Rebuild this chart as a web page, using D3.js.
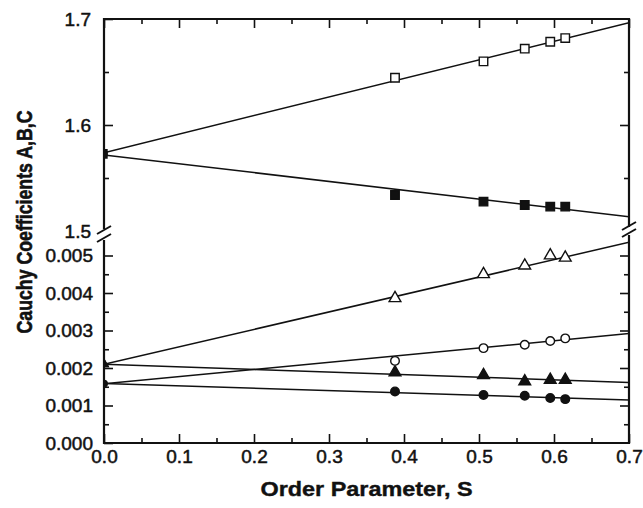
<!DOCTYPE html>
<html>
<head>
<meta charset="utf-8">
<script src="https://cdn.jsdelivr.net/npm/d3@7"></script>
<style>
  body { margin: 0; background: #fff; }
  svg { display: block; }
  text { font-family: "Liberation Sans", Arial, sans-serif; fill: #111; }
</style>
</head>
<body>
<div id="canva"></div>
<script>
// order parameter S of the measured points
const orderS = [0.388, 0.506, 0.561, 0.595, 0.615];

// Cauchy A (upper panel)
const aExtra = [1.6446, 1.660, 1.672, 1.6786, 1.682];   // open squares
const aOrdin = [1.534, 1.5277, 1.5245, 1.523, 1.523];   // filled squares
// Cauchy B, C (lower panel)
const bExtra = [0.00386, 0.00450, 0.00473, 0.00500, 0.00494]; // open triangles
const bOrdin = [0.00188, 0.00181, 0.00164, 0.00168, 0.00168]; // filled triangles
const cExtra = [0.00219, 0.00253, 0.00262, 0.00272, 0.00279]; // open circles
const cOrdin = [0.001375, 0.00128, 0.00126, 0.00120, 0.00117]; // filled circles

// fitted lines, value at S = 0 and at S = 0.7
const fitS = [0, 0.7];
const aExtraFit = [1.5739, 1.6965];
const aOrdinFit = [1.5717, 1.5135];
const bExtraFit = [0.0021, 0.005354];
const bOrdinFit = [0.0021, 0.001614];
const cExtraFit = [0.00158, 0.002917];
const cOrdinFit = [0.00159, 0.001144];

const xTicks = [0, 0.1, 0.2, 0.3, 0.4, 0.5, 0.6, 0.7];
const topTicks = [1.5, 1.6, 1.7];
const botTicks = [0, 0.001, 0.002, 0.003, 0.004, 0.005];

const width = 643, height = 508;
const mLeft = 104, mRight = 629, mTop = 19, mBottom = 443;
const breakTop = 229, breakBot = 239;

const svg = d3.select("#canva").append("svg")
    .attr("width", width)
    .attr("height", height);

const x = d3.scaleLinear().domain([0, 0.7]).range([mLeft, mRight]);
const yTop = d3.scaleLinear().domain([1.5, 1.7]).range([231, mTop]);
const yBot = d3.scaleLinear().domain([0, 0.005]).range([mBottom, 255.5]);

const defs = svg.append("defs");
defs.append("clipPath").attr("id", "clipTop").append("rect")
    .attr("x", mLeft).attr("y", mTop).attr("width", mRight - mLeft).attr("height", breakTop - mTop);
defs.append("clipPath").attr("id", "clipBot").append("rect")
    .attr("x", mLeft).attr("y", breakBot).attr("width", mRight - mLeft).attr("height", mBottom - breakBot);

// ---- axes ----
function styleAxis(g) {
    g.select(".domain").remove();
    g.selectAll(".tick line").attr("stroke", "#111").attr("stroke-width", 1.6);
    g.selectAll("text")
        .attr("font-size", 19)
        .attr("font-family", "'Liberation Sans', Arial, sans-serif")
        .attr("fill", "#111")
        .attr("stroke", "#111")
        .attr("stroke-width", 0.5);
}

const xMinor = d3.range(0.05, 0.7, 0.1);

svg.append("g")
    .attr("transform", `translate(0,${mBottom})`)
    .call(d3.axisBottom(x).tickValues(xTicks).tickSize(-9).tickPadding(7).tickFormat(d3.format(".1f")))
    .call(styleAxis);
svg.append("g")
    .attr("transform", `translate(0,${mBottom})`)
    .call(d3.axisBottom(x).tickValues(xMinor).tickSize(-5).tickFormat(""))
    .call(styleAxis);
svg.append("g")
    .attr("transform", `translate(0,${mTop})`)
    .call(d3.axisTop(x).tickValues(xTicks).tickSize(-9).tickFormat(""))
    .call(styleAxis);
svg.append("g")
    .attr("transform", `translate(0,${mTop})`)
    .call(d3.axisTop(x).tickValues(xMinor).tickSize(-5).tickFormat(""))
    .call(styleAxis);

const topMinor = [1.55, 1.65];
const botMinor = d3.range(0.0005, 0.0055, 0.001);

svg.append("g")
    .attr("transform", `translate(${mLeft},0)`)
    .call(d3.axisLeft(yTop).tickValues(topTicks).tickSize(-9).tickPadding(13).tickFormat(d3.format(".1f")))
    .call(styleAxis);
svg.append("g")
    .attr("transform", `translate(${mLeft},0)`)
    .call(d3.axisLeft(yTop).tickValues(topMinor).tickSize(-5).tickFormat(""))
    .call(styleAxis);
svg.append("g")
    .attr("transform", `translate(${mRight},0)`)
    .call(d3.axisRight(yTop).tickValues(topTicks.filter(d => d < 1.7)).tickSize(-9).tickFormat(""))
    .call(styleAxis);
svg.append("g")
    .attr("transform", `translate(${mRight},0)`)
    .call(d3.axisRight(yTop).tickValues(topMinor).tickSize(-5).tickFormat(""))
    .call(styleAxis);

svg.append("g")
    .attr("transform", `translate(${mLeft},0)`)
    .call(d3.axisLeft(yBot).tickValues(botTicks).tickSize(-9).tickPadding(11).tickFormat(d3.format(".3f")))
    .call(styleAxis);
svg.append("g")
    .attr("transform", `translate(${mLeft},0)`)
    .call(d3.axisLeft(yBot).tickValues(botMinor).tickSize(-5).tickFormat(""))
    .call(styleAxis);
svg.append("g")
    .attr("transform", `translate(${mRight},0)`)
    .call(d3.axisRight(yBot).tickValues(botTicks.filter(d => d > 0)).tickSize(-9).tickFormat(""))
    .call(styleAxis);
svg.append("g")
    .attr("transform", `translate(${mRight},0)`)
    .call(d3.axisRight(yBot).tickValues(botMinor).tickSize(-5).tickFormat(""))
    .call(styleAxis);

// hide the 1.5 tick mark that falls into the break gap
svg.selectAll(".tick").filter(d => d === 1.5).select("line").remove();

// frame
const frame = svg.append("g").attr("stroke", "#111").attr("stroke-width", 2.2).attr("fill", "none");
frame.append("path").attr("d", `M${mLeft},${breakTop}V${mTop}H${mRight}V${breakTop - 2}`);
frame.append("path").attr("d", `M${mLeft},${breakBot + 1}V${mBottom}H${mRight}V${breakBot - 4}`);

// break marks
const slash = "M-7,4L7,-4";
[[mLeft, breakTop + 1], [mLeft, breakBot - 1], [mRight, breakTop - 3], [mRight, breakBot - 6]].forEach(p => {
    svg.append("path")
        .attr("d", slash)
        .attr("transform", `translate(${p[0]},${p[1]})`)
        .attr("stroke", "#111")
        .attr("stroke-width", 2)
        .attr("fill", "none");
});

// ---- lines and markers ----
function drawSeries(y, clip, fit, vals, symbol, filled, size) {
    const g = svg.append("g").attr("clip-path", `url(#${clip})`);
    const line = d3.line().x(d => x(d[0])).y(d => y(d[1]));
    g.append("path")
        .datum(d3.zip(fitS, fit))
        .attr("d", line)
        .attr("fill", "none")
        .attr("stroke", "#111")
        .attr("stroke-width", 1.5);

    // the value at S = 0 sits on the left axis as a small blob
    const pts = [[0, fit[0]]].concat(d3.zip(orderS, vals));
    g.selectAll(null)
        .data(pts)
        .join("path")
        .attr("transform", d => `translate(${x(d[0])},${y(d[1])})`)
        .attr("d", d => d3.symbol().type(symbol).size(d[0] === 0 ? size * 0.5 : size)())
        .attr("fill", d => (filled || d[0] === 0) ? "#111" : "#fff")
        .attr("stroke", "#111")
        .attr("stroke-width", 1.4);
}

drawSeries(yTop, "clipTop", aExtraFit, aExtra, d3.symbolSquare, false, 72);
drawSeries(yTop, "clipTop", aOrdinFit, aOrdin, d3.symbolSquare, true, 72);
drawSeries(yBot, "clipBot", bExtraFit, bExtra, d3.symbolTriangle, false, 60);
drawSeries(yBot, "clipBot", bOrdinFit, bOrdin, d3.symbolTriangle, true, 60);
drawSeries(yBot, "clipBot", cExtraFit, cExtra, d3.symbolCircle, false, 58);
drawSeries(yBot, "clipBot", cOrdinFit, cOrdin, d3.symbolCircle, true, 58);

// ---- axis titles ----
svg.append("text")
    .attr("x", (mLeft + mRight) / 2)
    .attr("y", 496)
    .attr("text-anchor", "middle")
    .attr("textLength", 212)
    .attr("lengthAdjust", "spacingAndGlyphs")
    .attr("stroke", "#111")
    .attr("stroke-width", 0.4)
    .style("font-size", "21px")
    .style("font-weight", "bold")
    .text("Order Parameter, S");

svg.append("text")
    .attr("transform", `translate(32,222) rotate(-90)`)
    .attr("text-anchor", "middle")
    .attr("textLength", 223)
    .attr("lengthAdjust", "spacingAndGlyphs")
    .attr("stroke", "#111")
    .attr("stroke-width", 0.6)
    .style("font-size", "22px")
    .style("font-weight", "bold")
    .text("Cauchy Coefficients A,B,C");
</script>
</body>
</html>
